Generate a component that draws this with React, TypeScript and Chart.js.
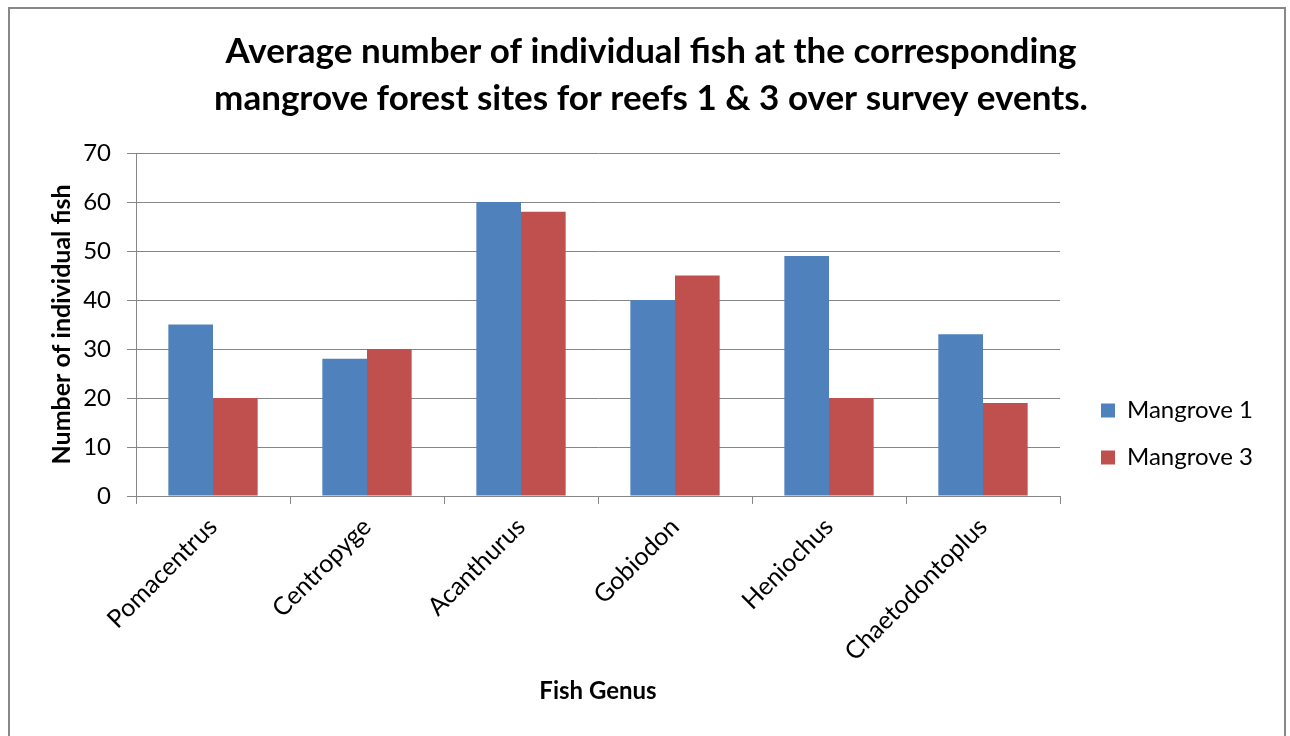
import React, { useEffect, useRef } from "react";
import { Chart, registerables } from "chart.js";

Chart.register(...registerables);

const categories = ["Pomacentrus", "Centropyge", "Acanthurus", "Gobiodon", "Heniochus", "Chaetodontoplus"];
const mangrove1 = [35, 28, 60, 40, 49, 33];
const mangrove3 = [20, 30, 58, 45, 20, 19];
const seriesNames = ["Mangrove 1", "Mangrove 3"];
const titleLines = [
  "Average number of individual fish at the corresponding",
  "mangrove forest sites for reefs 1 & 3 over survey events.",
];
const yAxisTitle = "Number of individual fish";
const xAxisTitle = "Fish Genus";

const FONT = "Lato, 'Open Sans', sans-serif";
const GRID = "#868686";

const framePlugin = {
  id: "frame",
  beforeLayout(chart: any) {
    const lg = chart.legend;
    if (lg && !lg.__patched) {
      const orig = lg.fit.bind(lg);
      lg.fit = function () {
        orig();
        this.width = 230;
      };
      lg.__patched = true;
    }
  },
  afterLayout(chart: any) {
    const lg = chart.legend;
    if (lg) {
      lg.left += 18;
      lg.right += 18;
      lg.top += 66;
      lg.bottom += 66;
    }
  },
  beforeDraw(chart: any) {
    const ctx = chart.ctx;
    ctx.save();
    ctx.fillStyle = "#ffffff";
    ctx.fillRect(0, 0, chart.width, chart.height);
    ctx.restore();
  },
  afterDraw(chart: any) {
    const ctx = chart.ctx;
    ctx.save();
    ctx.strokeStyle = "#888888";
    ctx.lineWidth = 2;
    ctx.strokeRect(9, 8, 1276, 800);
    ctx.restore();
  },
};

export default function App() {
  const ref = useRef<HTMLCanvasElement | null>(null);
  useEffect(() => {
    if (!ref.current) return;
    const chart = new Chart(ref.current, {
      type: "bar",
      data: {
        labels: categories,
        datasets: [
          { label: seriesNames[0], data: mangrove1, backgroundColor: "#4F81BD", borderWidth: 0 },
          { label: seriesNames[1], data: mangrove3, backgroundColor: "#C0504D", borderWidth: 0 },
        ],
      },
      options: {
        responsive: false,
        animation: false,
        devicePixelRatio: 1,
        categoryPercentage: 0.58,
        barPercentage: 1.0,
        layout: { padding: { left: 12, right: 0, top: 0, bottom: 0 } },
        plugins: {
          tooltip: { enabled: false },
          title: {
            display: true,
            text: titleLines,
            color: "#000000",
            font: { family: FONT, size: 35, weight: "bold", lineHeight: 1.343 },
            padding: { top: 28, bottom: 31 },
          },
          legend: {
            display: true,
            position: "right",
            align: "center",
            labels: {
              boxWidth: 14,
              boxHeight: 14,
              padding: 23,
              color: "#000000",
              font: { family: FONT, size: 24 },
            },
          },
        },
        scales: {
          x: {
            offset: true,
            grid: {
              display: true,
              offset: true,
              drawOnChartArea: false,
              drawTicks: true,
              tickLength: 8,
              color: GRID,
            },
            border: { display: true, color: GRID, width: 1 },
            ticks: {
              minRotation: 45,
              maxRotation: 45,
              autoSkip: false,
              padding: 8,
              color: "#000000",
              font: { family: FONT, size: 25 },
            },
            title: {
              display: true,
              text: xAxisTitle,
              color: "#000000",
              font: { family: FONT, size: 24, weight: "bold", lineHeight: 1.2 },
              padding: { top: 4, bottom: 30 },
            },
            afterFit(scale: any) {
              scale.height = 240;
            },
          },
          y: {
            min: 0,
            max: 70,
            ticks: {
              stepSize: 10,
              padding: 16,
              color: "#000000",
              font: { family: FONT, size: 24 },
            },
            grid: { color: GRID, lineWidth: 1, tickLength: 9, drawTicks: true },
            border: { display: true, color: GRID, width: 1 },
            title: {
              display: true,
              text: yAxisTitle,
              color: "#000000",
              font: { family: FONT, size: 25, weight: "bold", lineHeight: 1.2 },
              padding: { top: 35, bottom: 0 },
            },
            afterFit(scale: any) {
              scale.width = 124;
            },
          },
        },
      },
      plugins: [framePlugin],
    } as any);
    return () => chart.destroy();
  }, []);
  return (
    <div style={{ position: "absolute", left: 0, top: 0, width: 1290, height: 736, background: "#fff" }}>
      <canvas ref={ref} width={1290} height={736} style={{ display: "block", width: 1290, height: 736 }} />
    </div>
  );
}
